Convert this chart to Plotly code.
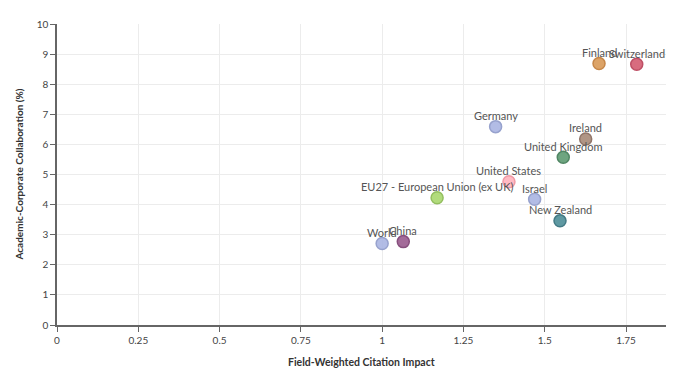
import plotly.graph_objects as go

countries = ["Finland", "Switzerland", "Germany", "Ireland", "United Kingdom",
             "United States", "EU27 - European Union (ex UK)", "Israel",
             "New Zealand", "World", "China"]
fwci = [1.667, 1.783, 1.349, 1.626, 1.557, 1.390, 1.169, 1.469, 1.547, 1.000, 1.065]
collab = [8.69, 8.66, 6.59, 6.18, 5.57, 4.76, 4.23, 4.18, 3.46, 2.71, 2.77]
fill_colors = ["#d99a57", "#d45d72", "#aab5e3", "#a88a78", "#5f9c73", "#ffb3bd",
               "#a9d86e", "#aab5e3", "#4e8e98", "#aab5e3", "#9a5b8f"]
line_colors = ["#c07a35", "#b83d55", "#8c98c8", "#85675a", "#3f7a54", "#f0909c",
               "#88b84e", "#8c98c8", "#2f6c78", "#8c98c8", "#7a3d70"]
x_ticks = [0, 0.25, 0.5, 0.75, 1, 1.25, 1.5, 1.75]
x_tick_labels = ["0", "0.25", "0.5", "0.75", "1", "1.25", "1.5", "1.75"]
y_ticks = list(range(0, 11))

FONT = "Lato, Open Sans, sans-serif"

fig = go.Figure()
fig.add_trace(go.Scatter(
    x=fwci, y=collab, mode="markers",
    marker=dict(size=12, color=fill_colors, opacity=0.9,
                line=dict(color=line_colors, width=1.5)),
    cliponaxis=False, hoverinfo="skip", showlegend=False,
))

annotations = []
for name, xv, yv in zip(countries, fwci, collab):
    annotations.append(dict(
        x=xv, y=yv, xref="x", yref="y", text=name, showarrow=False,
        yshift=11, font=dict(family=FONT, size=11, color="#555555"),
    ))
annotations.append(dict(
    x=0.5, y=-0.123, xref="paper", yref="paper", xanchor="center", yanchor="middle",
    text="<b>Field-Weighted Citation Impact</b>", showarrow=False,
    font=dict(family=FONT, size=10.5, color="#333333"),
))
annotations.append(dict(
    x=-0.064, y=0.5, xref="paper", yref="paper", xanchor="center", yanchor="middle",
    text="<b>Academic-Corporate Collaboration (%)</b>", showarrow=False, textangle=-90,
    font=dict(family=FONT, size=10, color="#333333"),
))

# page body adds an 8px offset, so the figure is sized to fit the 691x383 window
fig.update_layout(
    width=683, height=375,
    margin=dict(l=49, r=25, t=16, b=58),
    plot_bgcolor="white", paper_bgcolor="white",
    font=dict(family=FONT, color="#444444"),
    annotations=annotations,
    xaxis=dict(
        range=[0, 1.873], tickvals=x_ticks, ticktext=x_tick_labels,
        showgrid=True, gridcolor="#ececec", gridwidth=1,
        showline=True, linecolor="#666666", linewidth=1.5,
        ticks="outside", ticklen=5, tickcolor="#666666",
        tickfont=dict(size=10, color="#444444"), zeroline=False,
        automargin=False,
    ),
    yaxis=dict(
        range=[0, 10], tickvals=y_ticks,
        showgrid=True, gridcolor="#ececec", gridwidth=1,
        showline=True, linecolor="#666666", linewidth=1.5,
        ticks="outside", ticklen=5, tickcolor="#666666",
        tickfont=dict(size=10, color="#444444"), zeroline=False,
        automargin=False,
    ),
)

fig.write_html("out.html")
